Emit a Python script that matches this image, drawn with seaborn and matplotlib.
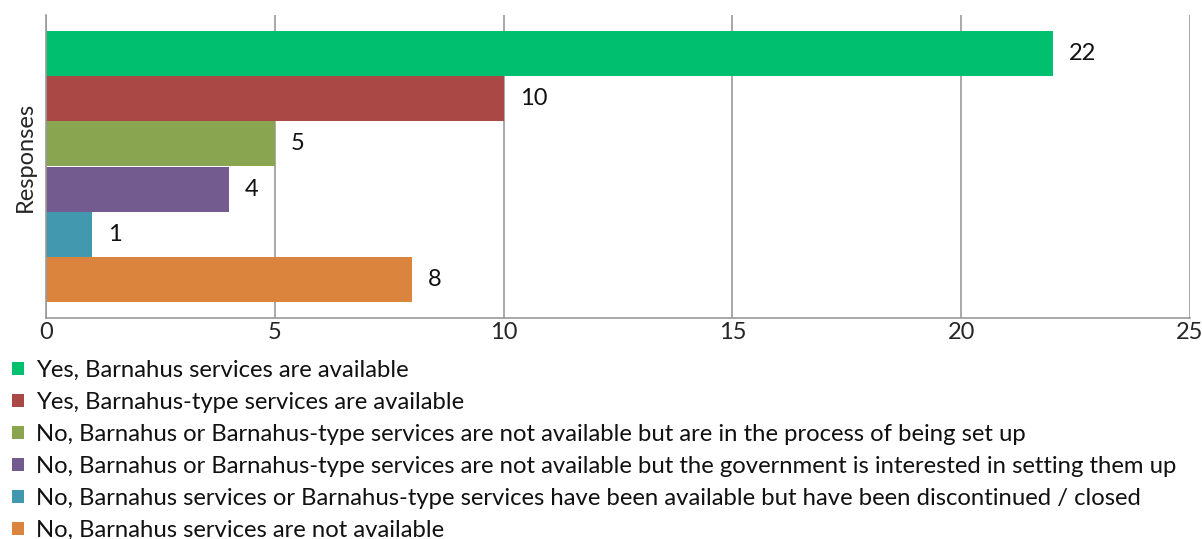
import matplotlib
matplotlib.use("Agg")
import pandas as pd
import seaborn as sns
import matplotlib.pyplot as plt
from matplotlib.patches import Patch

# Survey answers and counts
categories = [
    "Yes, Barnahus services are available",
    "Yes, Barnahus-type services are available",
    "No, Barnahus or Barnahus-type services are not available but are in the process of being set up",
    "No, Barnahus or Barnahus-type services are not available but the government is interested in setting them up",
    "No, Barnahus services or Barnahus-type services have been available but have been discontinued / closed",
    "No, Barnahus services are not available",
]
counts = [22, 10, 5, 4, 1, 8]
colors = ["#00BF6F", "#AA4845", "#8AA54F", "#735A8F", "#4298AF", "#DB843D"]
x_ticks = [0, 5, 10, 15, 20, 25]

df = pd.DataFrame({"answer": categories, "count": counts})

sns.set_style("white")
plt.rcParams["font.family"] = ["Lato", "DejaVu Sans"]
plt.rcParams["text.color"] = "#111111"

fig = plt.figure(figsize=(12.02, 5.39), dpi=100)
ax = fig.add_axes([46 / 1202, 1 - 318 / 539, 1144 / 1202, 303 / 539])

sns.barplot(data=df, x="count", y="answer", hue="answer", palette=colors,
            order=categories, hue_order=categories, width=1.0, dodge=False,
            legend=False, ax=ax, saturation=1, linewidth=0)

# value labels to the right of each bar
for i, v in enumerate(counts):
    ax.text(v + 0.35, i, str(v), va="center", ha="left", fontsize=17)

ax.set_xlim(0, 25)
ax.set_ylim(5.85, -0.85)
ax.set_xticks(x_ticks)
ax.set_xticklabels([str(t) for t in x_ticks], fontsize=17)
ax.set_yticks([])
ax.set_xlabel("")
ax.set_ylabel("Responses", fontsize=17)
ax.yaxis.set_label_coords(-0.009, 0.53)
ax.tick_params(axis="x", length=0, pad=3)

ax.grid(axis="x", color="#999999", linewidth=1.2)
ax.set_axisbelow(True)
for side in ["top", "right"]:
    ax.spines[side].set_visible(False)
for side in ["left", "bottom"]:
    ax.spines[side].set_color("#999999")
    ax.spines[side].set_linewidth(1.2)

handles = [Patch(facecolor=c, edgecolor="none", label=l) for c, l in zip(colors, categories)]
fig.legend(handles=handles, loc="upper left", bbox_to_anchor=(12 / 1202, 1 - 360 / 539),
           frameon=False, fontsize=17.2, handlelength=0.5, handleheight=0.5,
           handletextpad=0.5, labelspacing=0.46, borderpad=0, borderaxespad=0)

fig.savefig("out.png", dpi=100)
